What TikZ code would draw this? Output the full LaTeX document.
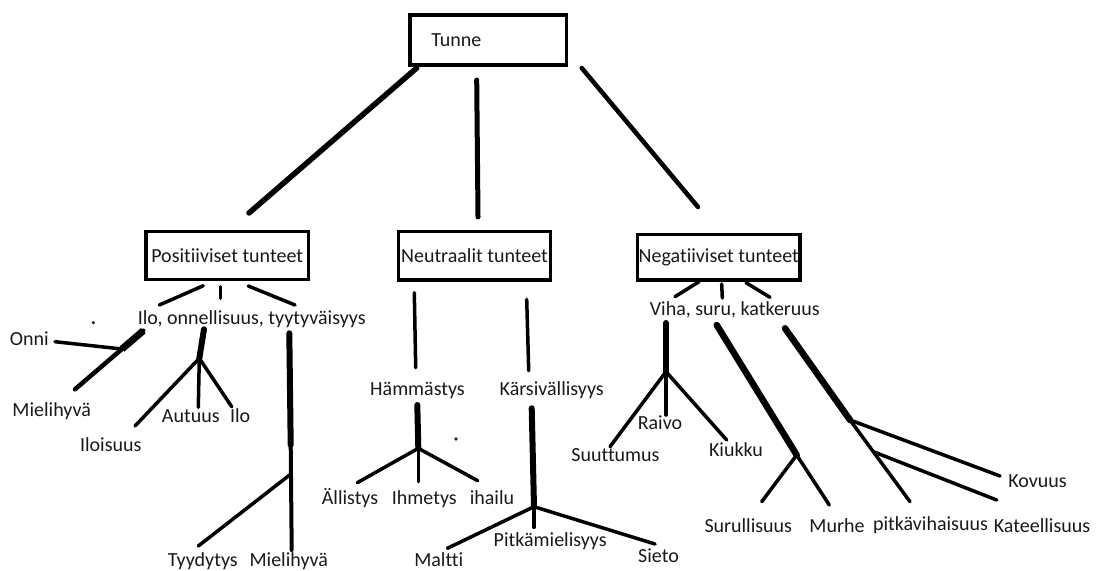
\documentclass[tikz,border=0pt]{standalone}
\usepackage{fontspec}
\setmainfont{Carlito}[Ligatures={NoCommon}]
\begin{document}
\begin{tikzpicture}[x=1pt,y=-1pt,
  txt/.style={inner sep=0pt, font=\fontsize{20}{24}\selectfont, text=black!90},
  lbl/.style={txt, anchor=base},
  boxst/.style={draw=black, line width=3.5pt, inner sep=0pt, txt},
  thinln/.style={line width=3.5pt, line cap=round},
  midln/.style={line width=4.5pt, line cap=round},
  thkln/.style={line width=6pt, line cap=round},
  dotst/.style={fill=black!85}]
\useasboundingbox (0,0) rectangle (1099,570);

% ---------- boxes ----------
\node[boxst, minimum width=156.7pt, minimum height=50pt] (tunne) at (488.3,40) {\raisebox{-3pt}{Tunne}\hspace*{64pt}};
\node[boxst, minimum width=162.3pt, minimum height=47.6pt] (pos) at (227.2,255.5) {Positiiviset tunteet};
\node[boxst, minimum width=152.4pt, minimum height=48.3pt] (neu) at (474.5,255.8) {Neutraalit tunteet};
\node[boxst, minimum width=162.3pt, minimum height=45.7pt] (neg) at (718.8,257.2) {\raisebox{4pt}{Negatiiviset tunteet}};

% ---------- top connectors ----------
\coordinate (t1a) at (416.7,68);  \coordinate (t1b) at (249,213);
\coordinate (t2a) at (476.7,80);  \coordinate (t2b) at (478,217);
\coordinate (t3a) at (581.7,68);  \coordinate (t3b) at (698,207);
\draw[line width=5.5pt, line cap=round] (t1a) -- (t1b);
\draw[line width=5pt, line cap=round] (t2a) -- (t2b);
\draw[line width=4.5pt, line cap=round] (t3a) -- (t3b);

% ---------- positive branch ----------
\node[lbl] (ilo) at (251.7,324.3) {Ilo, onnellisuus, tyytyväisyys};
\coordinate (p1a) at (203.3,285.7); \coordinate (p1b) at (159.3,305);
\coordinate (p2a) at (220.7,286.7); \coordinate (p2b) at (220.7,298.3);
\coordinate (p3a) at (248.3,286);   \coordinate (p3b) at (295,305);
\draw[thinln] (p1a) -- (p1b);
\draw[thinln] (p2a) -- (p2b);
\draw[thinln] (p3a) -- (p3b);

\fill[dotst] (93.3,322.7) circle (1.8);

\node[lbl] (onni) at (29.2,345.3) {Onni};
\node[lbl] (mieli1) at (51.7,416) {Mielihyvä};
\coordinate (m1a) at (143.3,330.7); \coordinate (m1j) at (122,349); \coordinate (m1b) at (75,389.3);
\coordinate (onnie) at (55,341.7);
\draw[midln] (m1a) -- (m1b);
\draw[line width=7pt] (m1a) -- (m1j);
\draw[thinln] (onnie) -- (m1j);

\node[lbl] (iloisuus) at (110.8,451) {Iloisuus};
\node[lbl] (autuus) at (190.8,422) {Autuus};
\node[lbl] (ilo2) at (240.2,422) {Ilo};
\coordinate (i0) at (204,329.3); \coordinate (ij) at (199.3,358.3);
\coordinate (i1) at (135,426); \coordinate (i2) at (198.3,407.3); \coordinate (i3) at (231.7,406.7);
\draw[thkln] (i0) -- (ij);
\draw[thinln] (ij) -- (i1);
\draw[thinln] (ij) -- (i2);
\draw[thinln] (ij) -- (i3);

\node[lbl] (tyyd) at (202.8,566.5) {Tyydytys};
\node[lbl] (mieli2) at (288.8,566.5) {Mielihyvä};
\coordinate (y0) at (289.3,333.3); \coordinate (y1) at (290.7,445);
\coordinate (yj) at (290.9,474); \coordinate (y2) at (291.7,550); \coordinate (y3) at (198.3,546);
\draw[thkln] (y0) -- (y1);
\draw[line width=4pt, line cap=round] (y1) -- (y2);
\draw[thinln] (yj) -- (y3);

% ---------- neutral branch ----------
\node[lbl] (hamm) at (417.5,395.3) {Hämmästys};
\node[lbl] (kars) at (551.7,395.3) {Kärsivällisyys};
\coordinate (n1a) at (414.3,292.7); \coordinate (n1b) at (415.7,367.7);
\coordinate (n2a) at (526.7,299.3); \coordinate (n2b) at (528.7,370.7);
\draw[thinln] (n1a) -- (n1b);
\draw[thinln] (n2a) -- (n2b);

\coordinate (h0) at (417.3,405); \coordinate (hj) at (418.3,448.3);
\coordinate (h1) at (357.3,482.7); \coordinate (h2) at (418.3,481.7); \coordinate (h3) at (477.7,480.7);
\draw[thkln] (h0) -- (hj);
\draw[thinln] (hj) -- (h1);
\draw[thinln] (hj) -- (h2);
\draw[thinln] (hj) -- (h3);
\fill[dotst] (456,439) circle (1.8);
\node[lbl] (allis) at (350,504.3) {Ällistys};
\node[lbl] (ihme) at (424.3,504) {Ihmetys};
\node[lbl] (ihai) at (492,504) {ihailu};

\coordinate (k0) at (531.7,408.3); \coordinate (kj) at (534,506.7);
\coordinate (k1) at (447.3,548.3); \coordinate (k2) at (534,527.3); \coordinate (k3) at (655,544);
\draw[thkln] (k0) -- (kj);
\draw[thinln] (kj) -- (k1);
\draw[thinln] (kj) -- (k2);
\draw[thinln] (kj) -- (k3);
\node[lbl] (pitk) at (550.2,546.7) {Pitkämielisyys};
\node[lbl] (malt) at (438.8,566) {Maltti};
\node[lbl] (siet) at (658.5,562.7) {Sieto};

% ---------- negative branch ----------
\node[lbl] (viha) at (734.8,315) {Viha, suru, katkeruus};
\coordinate (g1a) at (699,281.7);   \coordinate (g1b) at (675,296.7);
\coordinate (g2a) at (721.7,284);   \coordinate (g2b) at (722.3,298);
\coordinate (g3a) at (746,282.7);   \coordinate (g3b) at (770,297.3);
\draw[thinln] (g1a) -- (g1b);
\draw[thinln] (g2a) -- (g2b);
\draw[thinln] (g3a) -- (g3b);

\coordinate (v0) at (666,323); \coordinate (vj) at (666,371.7);
\coordinate (v1) at (610,446.7); \coordinate (v2) at (666,415); \coordinate (v3) at (726.7,440);
\draw[thkln] (v0) -- (vj);
\draw[thinln] (vj) -- (v1);
\draw[thinln] (vj) -- (v2);
\draw[thinln] (vj) -- (v3);
\node[lbl] (raivo) at (660,429.3) {Raivo};
\node[lbl] (suut) at (615.5,461) {Suuttumus};
\node[lbl] (kiuk) at (736,456) {Kiukku};

\coordinate (s0) at (716.7,325); \coordinate (sj) at (796.7,455);
\coordinate (s1) at (829.3,505); \coordinate (s2) at (761.7,501.7);
\draw[line width=6.5pt, line cap=round] (s0) -- (sj);
\draw[thinln] (sj) -- (s1);
\draw[thinln] (sj) -- (s2);
\node[lbl] (surul) at (748.3,532) {Surullisuus};
\node[lbl] (murhe) at (837,532) {Murhe};

\coordinate (c0) at (785,328.3); \coordinate (cj) at (850,420);
\coordinate (c1) at (910,501.7); \coordinate (c2) at (1000,476);
\coordinate (cj2) at (873.3,451.7); \coordinate (c3) at (996.7,500);
\draw[line width=6.5pt, line cap=round] (c0) -- (cj);
\draw[thinln] (cj) -- (c1);
\draw[thinln] (cj) -- (c2);
\draw[thinln] (cj2) -- (c3);
\node[lbl] (kovu) at (1037.5,487.7) {Kovuus};
\node[lbl] (pitkv) at (930.5,530) {pitkävihaisuus};
\node[lbl] (katee) at (1042,532) {Kateellisuus};
\end{tikzpicture}
\end{document}
